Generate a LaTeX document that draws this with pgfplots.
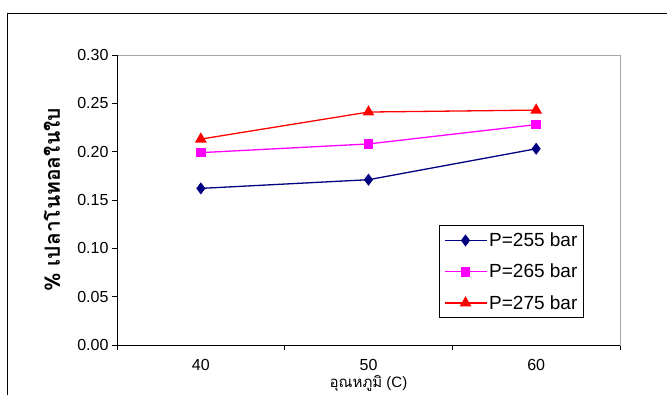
\documentclass[border=0pt]{standalone}
\usepackage{fontspec}
\setmainfont{Liberation Sans}
\newfontfamily\thaifont[Script=Thai]{Loma}
\usepackage{pgfplots}
\pgfplotsset{compat=1.18}

\definecolor{navyline}{RGB}{0,0,128}
\definecolor{magline}{RGB}{255,0,255}
\definecolor{redline}{RGB}{255,0,0}

\begin{document}
\begin{tikzpicture}
\clip (0pt,0pt) rectangle (667pt,394pt);
% outer chart frame
\draw[line width=1pt] (7.5pt,-20pt) rectangle (700pt,380.5pt);
\begin{axis}[
  at={(117pt,49pt)}, anchor=south west,
  scale only axis, width=503pt, height=290pt,
  xmin=35, xmax=65, ymin=0, ymax=0.30,
  axis line style={draw=gray!70, line width=0.8pt},
  xtick={35,45,55,65}, xticklabels={},
  extra x ticks={40,50,60},
  extra x tick labels={40,50,60},
  extra x tick style={xtick style={draw=none}},
  ytick={0,0.05,0.10,0.15,0.20,0.25,0.30},
  yticklabel style={/pgf/number format/.cd, fixed, fixed zerofill, precision=2},
  /pgf/number format/assume math mode=true,
  tick label style={font=\fontsize{16}{19}\selectfont, text=black},
  tick align=outside, tick pos=left,
  major tick length=5pt,
  tick style={black, line width=0.8pt},
  xticklabel style={yshift=-6pt},
  ylabel={\thaifont\bfseries\fontsize{21}{25}\selectfont \% เปลาโนทอลในใบ},
  ylabel style={yshift=10pt},
  xlabel={\fontsize{15}{18}\selectfont{\thaifont อุณหภูมิ} (C)},
  xlabel style={yshift=7pt},
  legend style={at={(0.928,0.093)}, anchor=south east, draw=black, line width=0.8pt,
    font=\fontsize{19}{22}\selectfont, row sep=12pt, inner xsep=4pt, inner ysep=5pt},
  legend cell align=left,
  legend image code/.code={\draw[mark repeat=2,mark phase=2,#1] plot coordinates {(0pt,0pt) (21pt,0pt) (42pt,0pt)};},
  every axis plot/.append style={line width=1.3pt},
]
\draw[black, line width=0.8pt] (rel axis cs:0,1) -- (rel axis cs:0,0) -- (rel axis cs:1,0);
\addplot[navyline, mark=diamond*, mark size=5pt, mark options={solid}] coordinates {(40,0.162) (50,0.171) (60,0.203)};
\addlegendentry{P=255 bar}
\addplot[magline, mark=square*, mark size=4.2pt] coordinates {(40,0.199) (50,0.208) (60,0.228)};
\addlegendentry{P=265 bar}
\addplot[redline, mark=triangle*, mark size=5.5pt] coordinates {(40,0.213) (50,0.241) (60,0.243)};
\addlegendentry{P=275 bar}
\end{axis}
\end{tikzpicture}
\end{document}
